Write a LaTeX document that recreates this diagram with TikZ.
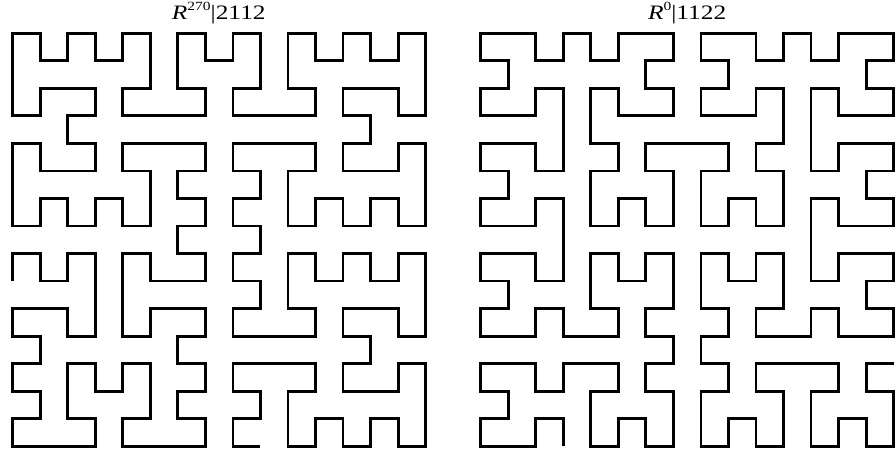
\documentclass[tikz,border=0pt]{standalone}
\usepackage{fontspec}
\setmainfont{Liberation Serif}
\usepackage{graphicx}
\usepackage{xcolor}

\newcommand{\rotuloCurva}[2]{\scalebox{1.24}[1]{\textit{R}\raisebox{8.5pt}{\fontsize{12.5}{12.5}\selectfont #1}|#2}}

\begin{document}
\begin{tikzpicture}[
  % Estilos
  trazoCurva/.style={
    draw=black, line width=2.8pt, line join=miter
  },
  etiqCurva/.style={
    font=\fontsize{20.5}{21}\selectfont,
    anchor=base, inner sep=0pt
  },
  celda/.style={x=27.53pt, y=-27.53pt}
]

\useasboundingbox (0,0) rectangle (896pt,-459pt);

% --- Títulos ---
\node[etiqCurva] (tituloIzq) at (218.8pt,-19pt) {\rotuloCurva{270}{2112}};
\node[etiqCurva] (tituloDer) at (687.2pt,-19pt) {\rotuloCurva{0}{1122}};

% --- Curva izquierda ---
\begin{scope}[shift={(12.7pt,-33.3pt)}, celda]
  % cuadrante sup. izq. + inf. izq.
  \draw[trazoCurva] plot coordinates {(8,1)
    (7,1) (7,0) (6,0) (6,1) (6,2) (7,2) (7,3) (6,3) (5,3) (4,3) (4,2) (5,2) (5,1) (5,0) (4,0) (4,1)
    (3,1) (3,0) (2,0) (2,1) (1,1) (1,0) (0,0) (0,1) (0,2) (0,3) (1,3) (1,2) (2,2) (3,2) (3,3) (2,3)
    (2,4) (3,4) (3,5) (2,5) (1,5) (1,4) (0,4) (0,5) (0,6) (0,7) (1,7) (1,6) (2,6) (2,7) (3,7) (3,6)
    (4,6) (4,7) (5,7) (5,6) (5,5) (4,5) (4,4) (5,4) (6,4) (7,4) (7,5) (6,5) (6,6) (7,6) (7,7) (6,7)
    (6,8) (7,8) (7,9) (6,9) (5,9) (5,8) (4,8) (4,9) (4,10) (4,11) (5,11) (5,10) (6,10) (7,10) (7,11) (6,11)
    (6,12) (7,12) (7,13) (6,13) (6,14) (7,14) (7,15) (6,15) (5,15) (4,15) (4,14) (5,14) (5,13) (5,12) (4,12) (4,13)
    (3,13) (3,12) (2,12) (2,13) (2,14) (3,14) (3,15) (2,15) (1,15) (0,15) (0,14) (1,14) (1,13) (0,13) (0,12) (1,12)
    (1,11) (0,11) (0,10) (1,10) (2,10) (2,11) (3,11) (3,10) (3,9) (3,8) (2,8) (2,9) (1,9) (1,8) (0,8) (0,9)};
  % cuadrante sup. der. + inf. der.
  \draw[trazoCurva] plot coordinates {(7,1)
    (8,1) (8,0) (9,0) (9,1) (9,2) (8,2) (8,3) (9,3) (10,3) (11,3) (11,2) (10,2) (10,1) (10,0) (11,0) (11,1)
    (12,1) (12,0) (13,0) (13,1) (14,1) (14,0) (15,0) (15,1) (15,2) (15,3) (14,3) (14,2) (13,2) (12,2) (12,3) (13,3)
    (13,4) (12,4) (12,5) (13,5) (14,5) (14,4) (15,4) (15,5) (15,6) (15,7) (14,7) (14,6) (13,6) (13,7) (12,7) (12,6)
    (11,6) (11,7) (10,7) (10,6) (10,5) (11,5) (11,4) (10,4) (9,4) (8,4) (8,5) (9,5) (9,6) (8,6) (8,7) (9,7)
    (9,8) (8,8) (8,9) (9,9) (9,10) (8,10) (8,11) (9,11) (10,11) (11,11) (11,10) (10,10) (10,9) (10,8) (11,8) (11,9)
    (12,9) (12,8) (13,8) (13,9) (14,9) (14,8) (15,8) (15,9) (15,10) (15,11) (14,11) (14,10) (13,10) (12,10) (12,11) (13,11)
    (13,12) (12,12) (12,13) (13,13) (14,13) (14,12) (15,12) (15,13) (15,14) (15,15) (14,15) (14,14) (13,14) (13,15) (12,15) (12,14)
    (11,14) (11,15) (10,15) (10,14) (10,13) (11,13) (11,12) (10,12) (9,12) (8,12) (8,13) (9,13) (9,14) (8,14) (8,15) (9,15)};
\end{scope}

% --- Curva derecha ---
\begin{scope}[shift={(480.7pt,-33.3pt)}, celda]
  % cuadrante sup. izq. + inf. izq.
  \draw[trazoCurva] plot coordinates {(8,4)
    (7,4) (6,4) (6,5) (7,5) (7,6) (7,7) (6,7) (6,6) (5,6) (5,7) (4,7) (4,6) (4,5) (5,5) (5,4) (4,4)
    (4,3) (4,2) (5,2) (5,3) (6,3) (7,3) (7,2) (6,2) (6,1) (7,1) (7,0) (6,0) (5,0) (5,1) (4,1) (4,0)
    (3,0) (3,1) (2,1) (2,0) (1,0) (0,0) (0,1) (1,1) (1,2) (0,2) (0,3) (1,3) (2,3) (2,2) (3,2) (3,3)
    (3,4) (3,5) (2,5) (2,4) (1,4) (0,4) (0,5) (1,5) (1,6) (0,6) (0,7) (1,7) (2,7) (2,6) (3,6) (3,7)
    (3,8) (3,9) (2,9) (2,8) (1,8) (0,8) (0,9) (1,9) (1,10) (0,10) (0,11) (1,11) (2,11) (2,10) (3,10) (3,11)
    (4,11) (5,11) (5,10) (4,10) (4,9) (4,8) (5,8) (5,9) (6,9) (6,8) (7,8) (7,9) (7,10) (6,10) (6,11) (7,11)
    (7,12) (6,12) (6,13) (7,13) (7,14) (7,15) (6,15) (6,14) (5,14) (5,15) (4,15) (4,14) (4,13) (5,13) (5,12) (4,12)
    (3,12) (3,13) (2,13) (2,12) (1,12) (0,12) (0,13) (1,13) (1,14) (0,14) (0,15) (1,15) (2,15) (2,14) (3,14) (3,15)};
  % cuadrante sup. der. + inf. der.
  \draw[trazoCurva] plot coordinates {(7,4)
    (8,4) (9,4) (9,5) (8,5) (8,6) (8,7) (9,7) (9,6) (10,6) (10,7) (11,7) (11,6) (11,5) (10,5) (10,4) (11,4)
    (11,3) (11,2) (10,2) (10,3) (9,3) (8,3) (8,2) (9,2) (9,1) (8,1) (8,0) (9,0) (10,0) (10,1) (11,1) (11,0)
    (12,0) (12,1) (13,1) (13,0) (14,0) (15,0) (15,1) (14,1) (14,2) (15,2) (15,3) (14,3) (13,3) (13,2) (12,2) (12,3)
    (12,4) (12,5) (13,5) (13,4) (14,4) (15,4) (15,5) (14,5) (14,6) (15,6) (15,7) (14,7) (13,7) (13,6) (12,6) (12,7)
    (12,8) (12,9) (13,9) (13,8) (14,8) (15,8) (15,9) (14,9) (14,10) (15,10) (15,11) (14,11) (13,11) (13,10) (12,10) (12,11)
    (11,11) (10,11) (10,10) (11,10) (11,9) (11,8) (10,8) (10,9) (9,9) (9,8) (8,8) (8,9) (8,10) (9,10) (9,11) (8,11)
    (8,12) (9,12) (9,13) (8,13) (8,14) (8,15) (9,15) (9,14) (10,14) (10,15) (11,15) (11,14) (11,13) (10,13) (10,12) (11,12)
    (12,12) (13,12) (13,13) (12,13) (12,14) (12,15) (13,15) (13,14) (14,14) (14,15) (15,15) (15,14) (15,13) (14,13) (14,12) (15,12)};
\end{scope}

\end{tikzpicture}
\end{document}
